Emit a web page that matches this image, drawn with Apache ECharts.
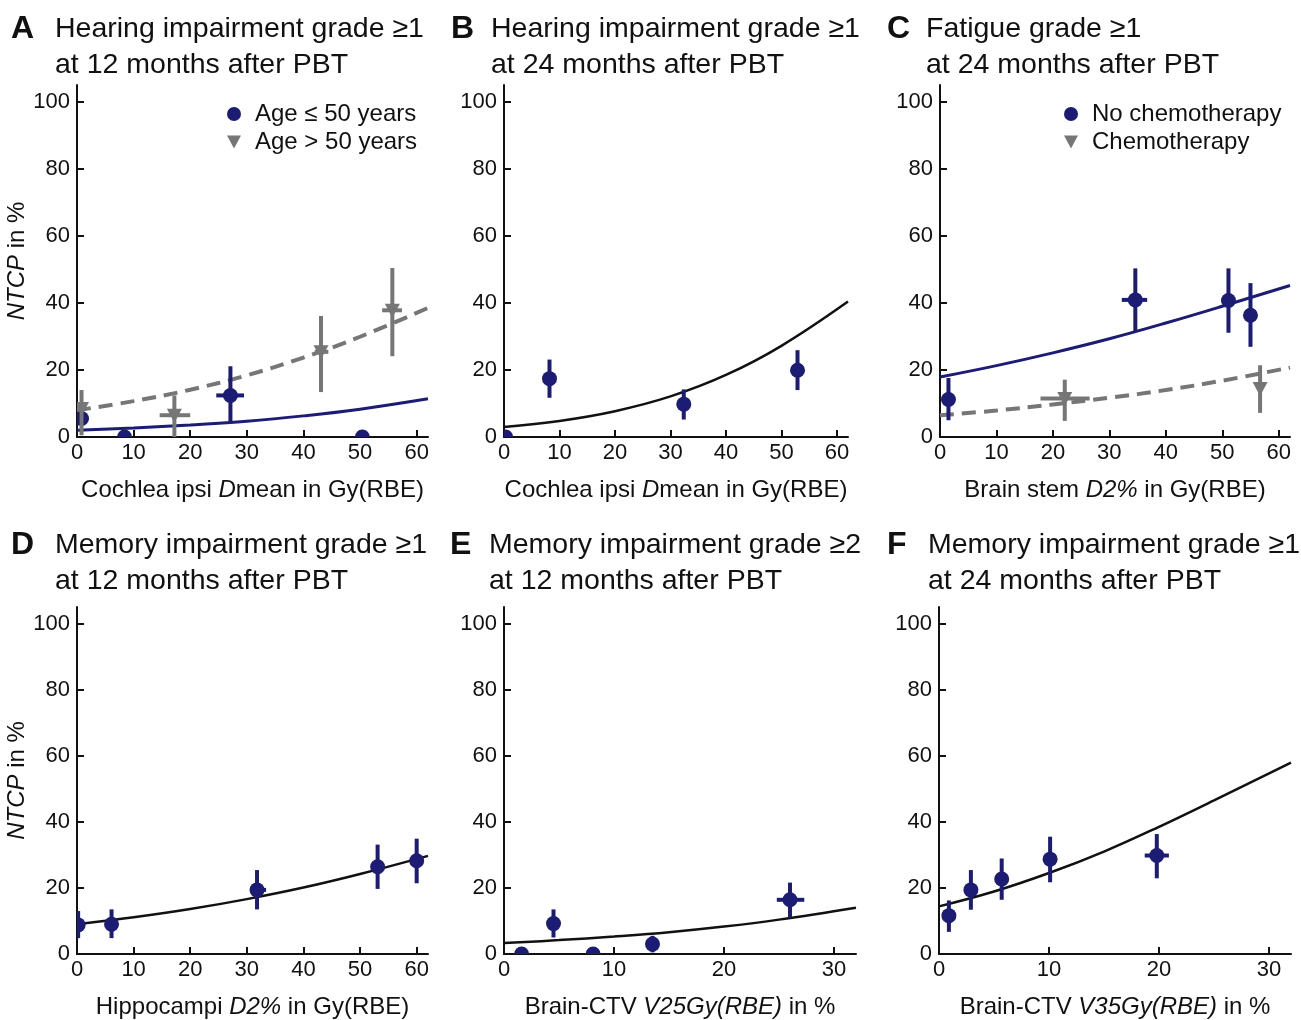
<!DOCTYPE html>
<html>
<head>
<meta charset="utf-8">
<script src="https://cdn.jsdelivr.net/npm/echarts@6/dist/echarts.min.js"></script>
<style>
html, body { margin: 0; padding: 0; background: #fff; }
#chart { width: 1301px; height: 1020px; }
</style>
</head>
<body>
<div id="chart"></div>
<script>
var navy = '#1c1c74';
var grey = '#767676';
var ink = '#111111';
var fam = "'Liberation Sans', Arial, sans-serif";

// points: [x, y, yLow, yHigh, xLow, xHigh]
var aYoung = [[0.8, 5.5, 5.5, 5.5, 0.8, 0.8], [8.4, 0, 0, 0, 8.4, 8.4], [27.1, 12.4, 4.3, 21.1, 24.6, 29.5], [50.4, 0, 0, 0, 50.4, 50.4]];
var aOld = [[0.8, 8.5, 0.5, 14, 0, 1.6], [17.2, 6.5, 0, 12.4, 14.6, 20.0], [43.1, 25.4, 13.4, 36.1, 42.0, 44.4], [55.7, 37.8, 24.1, 50.4, 53.9, 57.4]];
var bPts = [[0.3, 0, 0, 0, 0.3, 0.3], [8.2, 17.4, 11.7, 23.1, 8.2, 8.2], [32.4, 9.8, 5.2, 14.2, 32.4, 32.4], [52.9, 19.9, 14.0, 25.9, 52.9, 52.9]];
var cNoChemo = [[1.5, 11.2, 5.0, 17.6, 1.5, 1.5], [34.6, 40.9, 31.4, 50.3, 32.2, 36.7], [51.1, 40.7, 31.1, 50.3, 51.1, 51.1], [55.0, 36.3, 26.9, 45.9, 55.0, 55.0]];
var cChemo = [[22.1, 11.5, 4.8, 17.1, 17.8, 26.5], [56.7, 14.5, 7.2, 21.4, 56.7, 56.7]];
var dPts = [[0.2, 8.8, 4.8, 13.0, 0.2, 0.2], [6.1, 9.0, 4.8, 13.5, 6.1, 6.1], [31.8, 19.4, 13.5, 25.4, 30.6, 33.4], [53.1, 26.4, 19.7, 33.1, 53.1, 53.1], [60.0, 28.2, 21.4, 34.9, 60.0, 60.0]];
var ePts = [[1.6, 0, 0, 0, 1.6, 1.6], [4.5, 9.2, 5.0, 13.5, 4.5, 4.5], [8.1, 0, 0, 0, 8.1, 8.1], [13.5, 3.0, 0.5, 5.5, 13.5, 13.5], [26.0, 16.4, 11.0, 21.6, 24.8, 27.3]];
var fPts = [[0.9, 11.6, 6.7, 16.2, 0.9, 0.9], [2.9, 19.4, 13.4, 25.4, 2.9, 2.9], [5.7, 22.7, 16.4, 28.9, 5.7, 5.7], [10.1, 28.7, 21.7, 35.5, 10.1, 10.1], [19.8, 29.8, 22.9, 36.3, 18.7, 20.9]];

// fitted curves
var doseX = [0, 10, 20, 30, 40, 50, 62];
var volX = [0, 5, 10, 15, 20, 25, 32];
var aFitYoung = [2.0, 2.7, 3.6, 4.7, 6.3, 8.3, 11.4];
var aFitOld = [8.0, 10.7, 14.1, 18.4, 23.7, 29.9, 38.5];
var bFit = [3.0, 4.8, 7.7, 12.1, 18.5, 27.2, 40.4];
var cFitNoChemo = [17.9, 21.3, 25.1, 29.3, 34.0, 39.0, 45.2];
var cFitChemo = [6.5, 7.9, 9.7, 11.7, 14.0, 16.8, 20.7];
var dFit = [9.0, 11.1, 13.6, 16.6, 20.1, 24.2, 29.7];
var eFit = [3.3, 4.2, 5.3, 6.6, 8.3, 10.4, 14.0];
var fFit = [14.4, 18.9, 24.5, 31.0, 38.5, 46.5, 57.9];

var yTicks = [0, 20, 40, 60, 80, 100];
var doseTicks = [0, 10, 20, 30, 40, 50, 60];
var volTicks = [0, 10, 20, 30];

var letters = ['A', 'B', 'C', 'D', 'E', 'F'];
var titles = [
  'Hearing impairment grade ≥1\nat 12 months after PBT',
  'Hearing impairment grade ≥1\nat 24 months after PBT',
  'Fatigue grade ≥1\nat 24 months after PBT',
  'Memory impairment grade ≥1\nat 12 months after PBT',
  'Memory impairment grade ≥2\nat 12 months after PBT',
  'Memory impairment grade ≥1\nat 24 months after PBT'
];
var xNames = [
  'Cochlea ipsi {i|D}mean in Gy(RBE)',
  'Cochlea ipsi {i|D}mean in Gy(RBE)',
  'Brain stem {i|D2%} in Gy(RBE)',
  'Hippocampi {i|D2%} in Gy(RBE)',
  'Brain-CTV {i|V25Gy(RBE)} in %',
  'Brain-CTV {i|V35Gy(RBE)} in %'
];

var grids = [
  { left: 77, top: 85, width: 351, height: 352 },
  { left: 504, top: 85, width: 344, height: 352 },
  { left: 940, top: 85, width: 350, height: 352 },
  { left: 77, top: 607, width: 351, height: 351 },
  { left: 504, top: 607, width: 352, height: 351 },
  { left: 939, top: 607, width: 352, height: 351 }
];
var letterX = [11, 451, 887, 11, 450, 887];
var titleX = [55, 491, 926, 55, 489, 928];
var rowTop = [11, 11, 11, 527, 527, 527];

function zip(xs, ys) {
  var out = [];
  for (var i = 0; i < xs.length; i++) out.push([xs[i], ys[i]]);
  return out;
}

function errRender(shape) {
  return function (params, api) {
    var c = api.coord([api.value(0), api.value(1)]);
    var lo = api.coord([api.value(0), api.value(2)]);
    var hi = api.coord([api.value(0), api.value(3)]);
    var l = api.coord([api.value(4), api.value(1)]);
    var r = api.coord([api.value(5), api.value(1)]);
    var color = api.visual('color');
    var kids = [];
    if (lo[1] - hi[1] > 0.5) {
      kids.push({ type: 'line', shape: { x1: c[0], y1: lo[1], x2: c[0], y2: hi[1] }, style: { stroke: color, lineWidth: 4 } });
    }
    if (r[0] - l[0] > 0.5) {
      kids.push({ type: 'line', shape: { x1: l[0], y1: c[1], x2: r[0], y2: c[1] }, style: { stroke: color, lineWidth: 4 } });
    }
    if (shape === 'circle') {
      kids.push({ type: 'circle', shape: { cx: c[0], cy: c[1], r: 7.5 }, style: { fill: color } });
    } else {
      kids.push({ type: 'polygon', shape: { points: [[c[0] - 7.5, c[1] - 6.5], [c[0] + 7.5, c[1] - 6.5], [c[0], c[1] + 7.5]] }, style: { fill: color } });
    }
    return { type: 'group', children: kids };
  };
}

function pointSeries(idx, name, data, color, shape) {
  return {
    type: 'custom', name: name, xAxisIndex: idx, yAxisIndex: idx,
    data: data, clip: true, z: 5,
    encode: { x: 0, y: 1 },
    itemStyle: { color: color },
    renderItem: errRender(shape)
  };
}

function fitSeries(idx, xs, ys, color, dashed, width) {
  return {
    type: 'line', xAxisIndex: idx, yAxisIndex: idx,
    data: zip(xs, ys), smooth: 0.4, showSymbol: false, silent: true, z: 3,
    lineStyle: { color: color, width: width, type: dashed ? [14, 8] : 'solid' }
  };
}

var xAxes = [], yAxes = [], titleList = [];
for (var i = 0; i < 6; i++) {
  var ticks = (i === 4 || i === 5) ? volTicks : doseTicks;
  xAxes.push({
    gridIndex: i, type: 'value', min: 0, max: (i === 4 || i === 5) ? 32 : 62, interval: 10,
    name: xNames[i], nameLocation: 'middle', nameGap: 41,
    nameTextStyle: { fontSize: 24, color: ink, fontFamily: fam,
      rich: { i: { fontStyle: 'italic', fontSize: 24, color: ink, fontFamily: fam } } },
    axisLine: { lineStyle: { color: ink, width: 2 } },
    axisTick: { inside: true, length: 7, lineStyle: { color: ink, width: 2 }, customValues: ticks },
    axisLabel: { fontSize: 22, color: ink, fontFamily: fam, margin: 5, customValues: ticks },
    splitLine: { show: false }
  });
  yAxes.push({
    gridIndex: i, type: 'value', min: 0, max: 105, interval: 20,
    name: (i === 0 || i === 3) ? '{i|NTCP} in %' : '', nameLocation: 'middle', nameGap: 37,
    nameTextStyle: { fontSize: 24, color: ink, fontFamily: fam,
      rich: { i: { fontStyle: 'italic', fontSize: 24, color: ink, fontFamily: fam } } },
    axisLine: { lineStyle: { color: ink, width: 2 } },
    axisTick: { inside: true, length: 7, lineStyle: { color: ink, width: 2 }, customValues: yTicks },
    axisLabel: { fontSize: 22, color: ink, fontFamily: fam, margin: 7, customValues: yTicks },
    splitLine: { show: false }
  });
  titleList.push({
    text: letters[i], left: letterX[i], top: rowTop[i], padding: 0,
    textStyle: { fontSize: 32, fontWeight: 'bold', color: ink, fontFamily: fam, lineHeight: 36 }
  });
  titleList.push({
    text: titles[i], left: titleX[i], top: rowTop[i], padding: 0,
    textStyle: { fontSize: 28.5, fontWeight: 'normal', color: ink, fontFamily: fam, lineHeight: 36 }
  });
}

var triIcon = 'path://M0,0L14,0L7,13Z';

var option = {
  backgroundColor: '#fff',
  animation: false,
  title: titleList,
  grid: grids,
  xAxis: xAxes,
  yAxis: yAxes,
  legend: [
    { left: 222, top: 97, orient: 'vertical', selectedMode: false, itemWidth: 14, itemHeight: 14, itemGap: 4,
      textStyle: { fontSize: 24, color: ink, fontFamily: fam, padding: [0, 0, 0, 9] },
      data: [{ name: 'Age ≤ 50 years', icon: 'circle' }, { name: 'Age > 50 years', icon: triIcon }] },
    { left: 1059, top: 97, orient: 'vertical', selectedMode: false, itemWidth: 14, itemHeight: 14, itemGap: 4,
      textStyle: { fontSize: 24, color: ink, fontFamily: fam, padding: [0, 0, 0, 9] },
      data: [{ name: 'No chemotherapy', icon: 'circle' }, { name: 'Chemotherapy', icon: triIcon }] }
  ],
  series: [
    fitSeries(0, doseX, aFitOld, grey, true, 4),
    fitSeries(0, doseX, aFitYoung, navy, false, 3),
    pointSeries(0, 'Age ≤ 50 years', aYoung, navy, 'circle'),
    pointSeries(0, 'Age > 50 years', aOld, grey, 'triangle'),

    fitSeries(1, doseX, bFit, ink, false, 2.5),
    pointSeries(1, 'B points', bPts, navy, 'circle'),

    fitSeries(2, doseX, cFitChemo, grey, true, 4),
    fitSeries(2, doseX, cFitNoChemo, navy, false, 3),
    pointSeries(2, 'No chemotherapy', cNoChemo, navy, 'circle'),
    pointSeries(2, 'Chemotherapy', cChemo, grey, 'triangle'),

    fitSeries(3, doseX, dFit, ink, false, 2.5),
    pointSeries(3, 'D points', dPts, navy, 'circle'),

    fitSeries(4, volX, eFit, ink, false, 2.5),
    pointSeries(4, 'E points', ePts, navy, 'circle'),

    fitSeries(5, volX, fFit, ink, false, 2.5),
    pointSeries(5, 'F points', fPts, navy, 'circle')
  ]
};

var myChart = echarts.init(document.getElementById('chart'));
myChart.setOption(option);
</script>
</body>
</html>
